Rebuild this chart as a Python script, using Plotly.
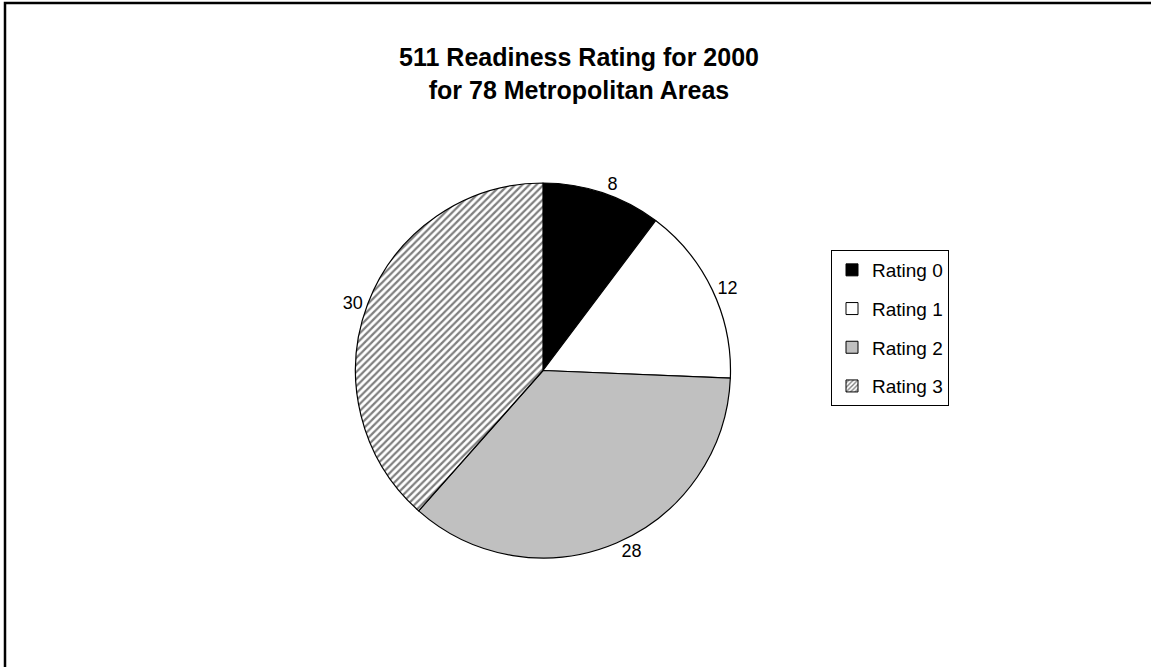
import plotly.graph_objects as go

labels = ["Rating 0", "Rating 1", "Rating 2", "Rating 3"]
values = [8, 12, 28, 30]
colors = ["#000000", "#FFFFFF", "#C0C0C0", "#FFFFFF"]
patterns = ["", "", "", "/"]

W, H = 1151, 667
cx, cy, r = 543, 370.5, 187.5
FONT = "Liberation Sans, Arial"

fig = go.Figure()
fig.add_trace(go.Pie(
    labels=labels,
    values=values,
    sort=False,
    direction="clockwise",
    rotation=0,
    textinfo="value",
    textposition="outside",
    textfont=dict(family=FONT, size=18, color="black"),
    marker=dict(
        colors=colors,
        line=dict(color="black", width=1.2),
        pattern=dict(shape=patterns, fgcolor="black", bgcolor="white",
                     size=5, solidity=0.45, fillmode="overlay"),
    ),
    domain=dict(x=[(cx - r) / W, (cx + r) / W],
                y=[1 - (cy + r) / H, 1 - (cy - r) / H]),
    hoverinfo="label+value",
    showlegend=False,
))

# legend entries (legend-only bar traces carrying the slice styles)
for lab, col, pat in zip(labels, colors, patterns):
    fig.add_trace(go.Bar(
        x=[None], y=[None], name=lab, legendgroup=lab,
        marker=dict(color=col, line=dict(color="black", width=1),
                    pattern=dict(shape=pat, fgcolor="black", bgcolor="white",
                                 size=4, solidity=0.45)),
        hoverinfo="skip",
    ))

fig.update_layout(
    width=W, height=H,
    margin=dict(l=0, r=0, t=0, b=0),
    paper_bgcolor="white",
    plot_bgcolor="rgba(0,0,0,0)",
    xaxis=dict(visible=False),
    yaxis=dict(visible=False),
    title=dict(
        text="<b>511 Readiness Rating for 2000<br>for 78 Metropolitan Areas</b>",
        x=579 / W, xanchor="center",
        y=1 - 66 / H, yanchor="middle",
        font=dict(family=FONT, size=25, color="black"),
    ),
    legend=dict(
        x=831 / W, xanchor="left",
        y=1 - 250 / H, yanchor="top",
        bordercolor="black", borderwidth=1,
        bgcolor="white",
        font=dict(family=FONT, size=19, color="black"),
        itemwidth=30,
        tracegroupgap=11,
        traceorder="grouped",
    ),
    shapes=[dict(type="rect", xref="paper", yref="paper",
                 x0=5 / W, x1=1.02, y0=-0.02, y1=1 - 3 / H,
                 line=dict(color="black", width=2.5), fillcolor="rgba(0,0,0,0)")],
)

fig.write_html("out.html")
